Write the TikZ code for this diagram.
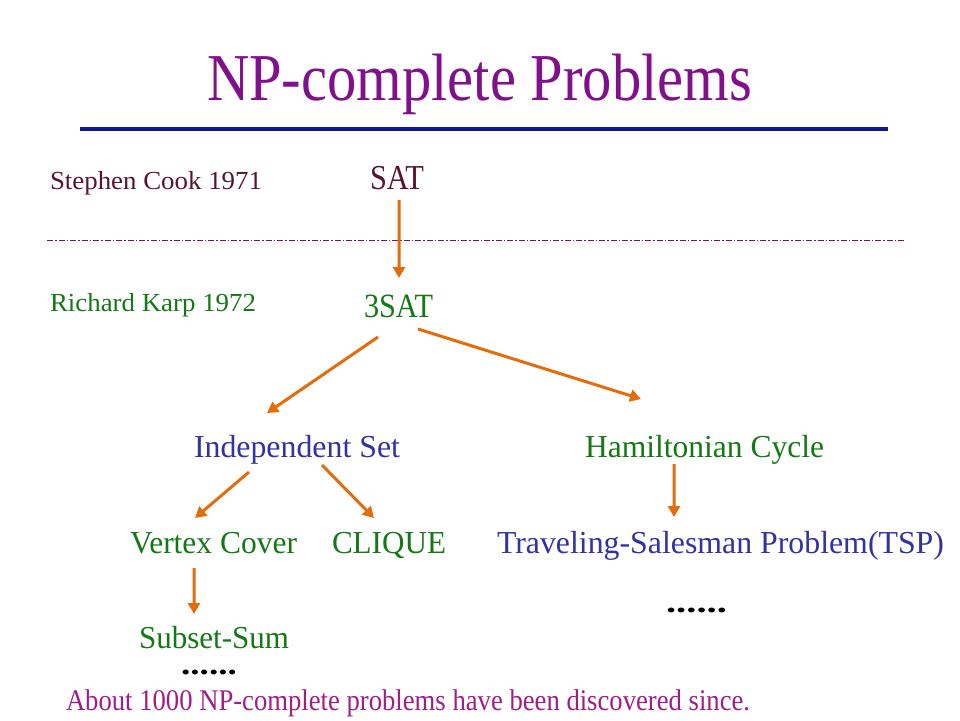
\documentclass[tikz,border=0pt]{standalone}
\usepackage{fontspec}
\setmainfont{Liberation Serif}
\usepackage{graphicx}
\usetikzlibrary{arrows.meta}
\definecolor{titlecol}{RGB}{128,16,140}
\definecolor{rulecol}{RGB}{20,20,150}
\definecolor{maroon}{RGB}{90,20,50}
\definecolor{dgreen}{RGB}{20,120,20}
\definecolor{tblue}{RGB}{50,50,160}
\definecolor{arrorange}{RGB}{228,108,10}
\definecolor{noteMag}{RGB}{160,30,140}
\newcommand\fitt[3]{\resizebox{#2pt}{\height}{\fontsize{#1}{#1}\selectfont #3}}
\tikzset{
  lbl/.style={anchor=base west, inner sep=0pt, outer sep=0pt},
  arr/.style={draw=arrorange, line width=3pt, -{Triangle[length=11pt,width=12pt]}},
}
\begin{document}
\begin{tikzpicture}[x=1pt,y=-1pt]
\fill[white] (0,0) rectangle (960,720);
\useasboundingbox (0,0) rectangle (960,720);
% title
\node[lbl, text=titlecol] (title) at (207,100) {\fitt{67}{545}{NP-complete Problems}};
\draw[rulecol, line width=3.5pt] (80,129) -- (888,129);
% time labels
\node[lbl, text=maroon] (cook) at (50,189) {\fitt{26}{212}{Stephen Cook 1971}};
\node[lbl, text=dgreen] (karp) at (50,311) {\fitt{26}{206}{Richard Karp 1972}};
\draw[maroon!80!magenta, line width=0.8pt, dash pattern=on 6pt off 2pt on 1.5pt off 2pt] (47,240) -- (905,240);
% problems
\node[lbl, text=maroon] (sat) at (370,189) {\fitt{35}{54}{SAT}};
\node[lbl, text=dgreen] (tsat) at (364,317) {\fitt{34}{69}{3SAT}};
\node[lbl, text=tblue] (indep) at (194,457) {\fitt{32}{206}{Independent Set}};
\node[lbl, text=dgreen] (ham) at (585,457) {\fitt{32}{239}{Hamiltonian Cycle}};
\node[lbl, text=dgreen] (vc) at (130,553) {\fitt{32}{167}{Vertex Cover}};
\node[lbl, text=dgreen] (clique) at (332,553) {\fitt{32}{114}{CLIQUE}};
\node[lbl, text=tblue] (tsp) at (497,553) {\fitt{32}{447}{Traveling-Salesman Problem(TSP)}};
\node[lbl, text=dgreen] (subset) at (139,648) {\fitt{32}{150}{Subset-Sum}};
\node[lbl, text=black] (dotsA) at (181,674) {\fitt{30}{56}{\textbf{......}}};
\node[lbl, text=black] (dotsB) at (666,612) {\fitt{30}{61}{\textbf{......}}};
\node[lbl, text=noteMag] (note) at (66,710) {\fitt{30}{684}{About 1000 NP-complete problems have been discovered since.}};
% arrows
\draw[arr] ([shift={(2,11)}]sat.base) -- ([shift={(0.5,-39)}]tsat.base);
\draw[arr] ([shift={(-20.5,20)}]tsat.base) -- ([shift={(-30,-44)}]indep.base);
\draw[arr] ([shift={(19.5,12)}]tsat.base) -- ([shift={(-63.5,-58)}]ham.base);
\draw[arr] ([shift={(-48,15)}]indep.base) -- ([shift={(-18.5,-35)}]vc.base);
\draw[arr] ([shift={(25,8)}]indep.base) -- ([shift={(-15,-35)}]clique.base);
\draw[arr] ([shift={(-30.5,7)}]ham.base) -- ([shift={(-46.5,-36)}]tsp.base);
\draw[arr] ([shift={(-19.5,15)}]vc.base) -- ([shift={(-20,-34)}]subset.base);
\end{tikzpicture}
\end{document}
